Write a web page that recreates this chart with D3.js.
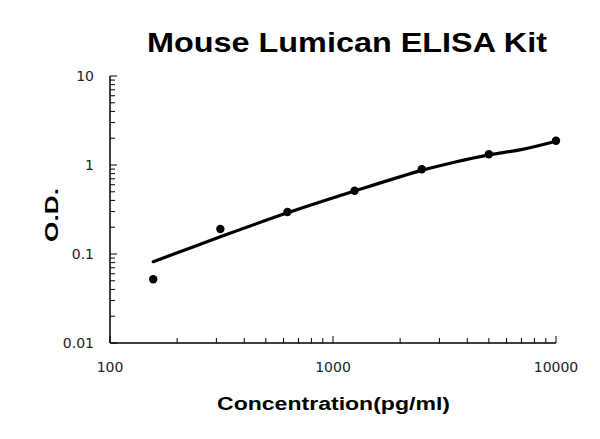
<!DOCTYPE html>
<html><head><meta charset="utf-8">
<script src="https://cdn.jsdelivr.net/npm/d3@7/dist/d3.min.js"></script>
<style>body{margin:0;background:#fff}svg{display:block}</style>
</head><body>
<svg id="c" width="600" height="439"></svg>
<script>
const conc = [156.25, 312.5, 625, 1250, 2500, 5000, 10000];
const od = [0.052, 0.191, 0.296, 0.514, 0.895, 1.32, 1.87];
const fitX = [156.25, 312.5, 625, 1250, 2500, 3536, 5000, 7071, 10000];
const fitY = [0.082, 0.156, 0.29, 0.51, 0.87, 1.08, 1.3, 1.5, 1.85];
const xTicks = [100, 1000, 10000];
const yTicks = [0.01, 0.1, 1, 10];
const yTickLabels = ["0.01", "0.1", "1", "10"];

const svg = d3.select("#c");
const x = d3.scaleLog().domain([100, 10000]).range([110, 556]);
const y = d3.scaleLog().domain([0.01, 10]).range([343, 76]);

function minors(lo, hi){
  const out=[];
  for(let d=lo; d<hi; d*=10) for(let k=2;k<=9;k++) out.push(d*k);
  return out;
}
const g = svg.append("g");
g.append("line").attr("x1",x(100)).attr("x2",x(10000)).attr("y1",y(0.01)).attr("y2",y(0.01)).attr("stroke","#000").attr("stroke-width",1.5);
g.append("line").attr("x1",x(100)).attr("x2",x(100)).attr("y1",y(0.01)).attr("y2",y(10)).attr("stroke","#000").attr("stroke-width",1.5);
minors(100,10000).forEach(v=>g.append("line").attr("x1",x(v)).attr("x2",x(v)).attr("y1",y(0.01)).attr("y2",y(0.01)-5).attr("stroke","#000"));
xTicks.forEach(v=>g.append("line").attr("x1",x(v)).attr("x2",x(v)).attr("y1",y(0.01)).attr("y2",y(0.01)-7).attr("stroke","#000"));
minors(0.01,10).forEach(v=>g.append("line").attr("x1",x(100)).attr("x2",x(100)+5).attr("y1",y(v)).attr("y2",y(v)).attr("stroke","#000"));
yTicks.forEach(v=>g.append("line").attr("x1",x(100)).attr("x2",x(100)+7).attr("y1",y(v)).attr("y2",y(v)).attr("stroke","#000"));
xTicks.forEach(v=>g.append("text").attr("x",x(v)).attr("y",372).attr("text-anchor","middle")
  .attr("font-family","DejaVu Sans").attr("font-size",14).attr("fill","#222").text(String(v)));
yTicks.forEach((v,i)=>g.append("text").attr("x",94).attr("y",y(v)+5).attr("text-anchor","end")
  .attr("font-family","DejaVu Sans").attr("font-size",14).attr("fill","#222").text(yTickLabels[i]));
const line = d3.line().x(d=>x(d[0])).y(d=>y(d[1])).curve(d3.curveCatmullRom.alpha(0.5));
g.append("path").attr("d",line(fitX.map((v,i)=>[v,fitY[i]]))).attr("fill","none").attr("stroke","#000").attr("stroke-width",3.2).attr("stroke-linecap","round");
g.selectAll("circle.p").data(conc).enter().append("circle").attr("cx",d=>x(d)).attr("cy",(d,i)=>y(od[i])).attr("r",4.2).attr("fill","#000");
svg.append("text").attr("x",147).attr("y",52).attr("textLength",400).attr("lengthAdjust","spacingAndGlyphs")
  .attr("font-family","Liberation Sans, Arial").attr("font-weight","bold").attr("font-size",27).text("Mouse Lumican ELISA Kit");
svg.append("text").attr("x",217).attr("y",410).attr("textLength",233).attr("lengthAdjust","spacingAndGlyphs")
  .attr("font-family","Liberation Sans, Arial").attr("font-weight","bold").attr("font-size",18).text("Concentration(pg/ml)");
svg.append("text").attr("transform","translate(58,242) rotate(-90)").attr("textLength",54).attr("lengthAdjust","spacingAndGlyphs")
  .attr("font-family","Liberation Sans, Arial").attr("font-weight","bold").attr("font-size",19).text("O.D.");
</script>
</body></html>
